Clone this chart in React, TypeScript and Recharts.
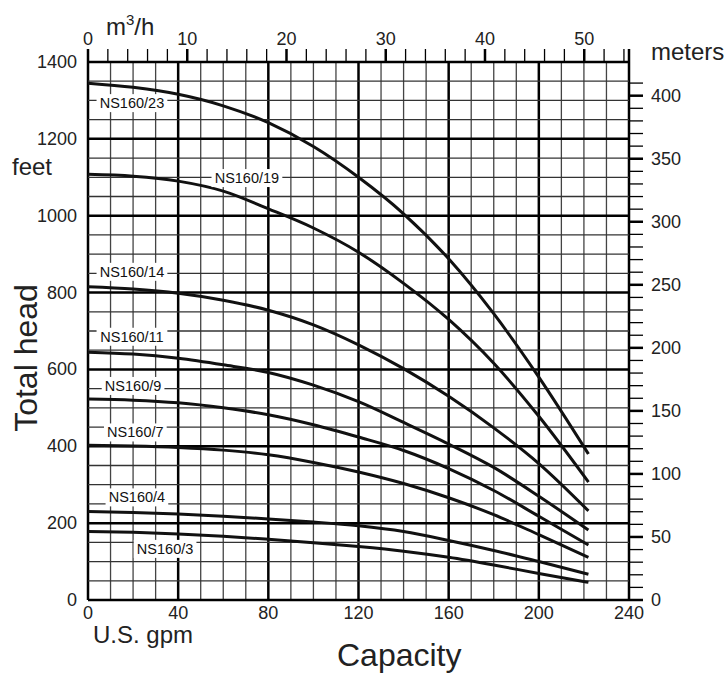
import React from 'react';
import { LineChart, Line, XAxis, YAxis, ReferenceLine, ReferenceDot } from 'recharts';

// capacity points (U.S. gpm)
const GPM = [0, 20, 40, 60, 80, 100, 120, 140, 160, 180, 200, 222];

// total head in feet for each pump model
const NS23 = [1345, 1334, 1316, 1286, 1242, 1180, 1100, 1005, 888, 745, 580, 380];
const NS19 = [1108, 1103, 1090, 1064, 1018, 968, 905, 824, 730, 616, 478, 307];
const NS14 = [815, 809, 798, 780, 754, 716, 664, 602, 530, 448, 355, 232];
const NS11 = [645, 640, 629, 612, 592, 559, 516, 462, 406, 345, 270, 182];
const NS9 = [523, 520, 513, 500, 482, 456, 424, 389, 342, 285, 218, 143];
const NS7 = [403, 401, 397, 390, 378, 358, 333, 303, 266, 222, 170, 111];
const NS4 = [230, 228, 224, 218, 211, 203, 193, 178, 155, 129, 100, 67];
const NS3 = [178, 176, 172, 166, 158, 149, 139, 127, 111, 91, 69, 46];

const MODELS = ['NS160/23', 'NS160/19', 'NS160/14', 'NS160/11', 'NS160/9', 'NS160/7', 'NS160/4', 'NS160/3'];
const SERIES = [NS23, NS19, NS14, NS11, NS9, NS7, NS4, NS3];

// where the model tags sit (data coords)
const TAGS = [
  { name: 'NS160/23', gpm: 19.5, ft: 1293 },
  { name: 'NS160/19', gpm: 70.5, ft: 1098 },
  { name: 'NS160/14', gpm: 19.5, ft: 854 },
  { name: 'NS160/11', gpm: 19.5, ft: 685 },
  { name: 'NS160/9', gpm: 20, ft: 557 },
  { name: 'NS160/7', gpm: 21, ft: 436 },
  { name: 'NS160/4', gpm: 21.7, ft: 267 },
  { name: 'NS160/3', gpm: 34.2, ft: 133 },
];

const GPM_TICKS = [0, 40, 80, 120, 160, 200, 240];
const FT_TICKS = [0, 200, 400, 600, 800, 1000, 1200, 1400];
const M3H_TICKS = Array.from({ length: 28 }, (_, i) => i * 2);
const M_TICKS = Array.from({ length: 42 }, (_, i) => i * 10);
const GRID_GPM = Array.from({ length: 25 }, (_, i) => i * 10);
const GRID_FT = Array.from({ length: 29 }, (_, i) => i * 50);

const GPM_PER_M3H = 4.40287;
const FT_PER_M = 3.28084;
const TOP_TICKS = [...M3H_TICKS.map((v) => v * GPM_PER_M3H), 240];

const FONT = '"Liberation Sans", Arial, sans-serif';

const data = GPM.map((g, i) => {
  const row: Record<string, number> = { gpm: g };
  MODELS.forEach((m, k) => { row[m] = SERIES[k][i]; });
  return row;
});

const LeftTick = ({ x, y, payload }: any) => (
  <text x={x} y={y + 6} textAnchor="end" fontSize={18} fontFamily={FONT} fill="#222">{payload.value}</text>
);

const BottomTick = ({ x, y, payload }: any) => (
  <text x={x} y={y + 14} textAnchor="middle" fontSize={18} fontFamily={FONT} fill="#222">{payload.value}</text>
);

const TopTick = ({ x, y, payload }: any) => {
  const g = payload.value;
  const isEnd = g >= 239.99;
  const m3 = Math.round(g / GPM_PER_M3H);
  const major = isEnd || m3 % 10 === 0;
  return (
    <g>
      <line x1={x} x2={x} y1={y + 4} y2={y + 17} stroke="#000" strokeWidth={major ? 2.5 : 1.3} />
      {!isEnd && m3 % 10 === 0 && (
        <text x={x} y={y} textAnchor="middle" fontSize={18} fontFamily={FONT} fill="#222">{m3}</text>
      )}
    </g>
  );
};

const RightTick = ({ x, y, payload }: any) => {
  const v = payload.value;
  const major = v % 50 === 0;
  return (
    <g>
      <line x1={x - 22} x2={x - 8} y1={y} y2={y} stroke="#000" strokeWidth={major ? 2.5 : 1.3} />
      {major && (
        <text x={x} y={y + 6} textAnchor="start" fontSize={18} fontFamily={FONT} fill="#222">{v}</text>
      )}
    </g>
  );
};

const Tag = ({ cx, cy, text }: any) => {
  const w = text.length * 8.1;
  return (
    <g>
      <rect x={cx - w / 2 - 3} y={cy - 9} width={w + 6} height={18} fill="#fff" />
      <text x={cx} y={cy + 5} textAnchor="middle" fontSize={14.5} fontFamily={FONT} fill="#111">{text}</text>
    </g>
  );
};

export default function App() {
  return (
    <div style={{ position: 'absolute', left: 0, top: 0, width: 728, height: 673, background: '#fff' }}>
      <LineChart width={728} height={673} data={data} margin={{ top: 32, right: 39, bottom: 43, left: 28 }}>
        <XAxis xAxisId="gpm" dataKey="gpm" type="number" domain={[0, 240]} ticks={GPM_TICKS} interval={0}
          tickLine={false} axisLine={false} tickSize={0} tickMargin={5} height={30}
          tick={(p: any) => <BottomTick {...p} />} allowDataOverflow />
        <XAxis xAxisId="top" dataKey="gpm" orientation="top" type="number" domain={[0, 240]} ticks={TOP_TICKS}
          interval={0} tickLine={false} axisLine={false} tickSize={13} tickMargin={4} height={30}
          tick={(p: any) => <TopTick {...p} />} allowDataOverflow />
        <YAxis yAxisId="ft" type="number" domain={[0, 1400]} ticks={FT_TICKS} interval={0} width={60}
          tickLine={false} axisLine={false} tickSize={0} tickMargin={11}
          tick={(p: any) => <LeftTick {...p} />} allowDataOverflow />
        <YAxis yAxisId="m" orientation="right" type="number" domain={[0, 1400 / FT_PER_M]} ticks={M_TICKS}
          interval={0} width={60} tickLine={false} axisLine={false} tickSize={14} tickMargin={8}
          tick={(p: any) => <RightTick {...p} />} allowDataOverflow />

        {GRID_GPM.map((v) => (
          <ReferenceLine key={'gx' + v} xAxisId="gpm" yAxisId="ft" x={v} stroke={v % 40 === 0 ? '#000' : '#444'}
            strokeWidth={v % 40 === 0 ? 2.5 : 1.3} />
        ))}
        {GRID_FT.map((v) => (
          <ReferenceLine key={'gy' + v} xAxisId="gpm" yAxisId="ft" y={v} stroke={v % 200 === 0 ? '#000' : '#333'}
            strokeWidth={v % 200 === 0 ? 2.5 : 1.3} />
        ))}

        {MODELS.map((m) => (
          <Line key={m} xAxisId="gpm" yAxisId="ft" dataKey={m} type="monotone" stroke="#111" strokeWidth={3}
            dot={false} isAnimationActive={false} />
        ))}

        {TAGS.map((t) => (
          <ReferenceDot key={t.name} xAxisId="gpm" yAxisId="ft" x={t.gpm} y={t.ft} r={0} ifOverflow="visible"
            shape={(p: any) => <Tag cx={p.cx} cy={p.cy} text={t.name} />} />
        ))}
      </LineChart>
      <svg width={728} height={673} style={{ position: 'absolute', left: 0, top: 0, pointerEvents: 'none' }}>
        <text x={106} y={35} fontSize={24} fontFamily={FONT} fill="#222">
          m<tspan fontSize={15} dy={-10}>3</tspan><tspan dy={10}>/h</tspan>
        </text>
        <text x={651} y={60} fontSize={24} fontFamily={FONT} fill="#222">meters</text>
        <text x={12} y={175} fontSize={24} fontFamily={FONT} fill="#222">feet</text>
        <text x={37} y={358} fontSize={32} fontFamily={FONT} fill="#222" textAnchor="middle"
          transform="rotate(-90 37 358)">Total head</text>
        <text x={93} y={643} fontSize={24} fontFamily={FONT} fill="#222">U.S. gpm</text>
        <text x={337} y={666} fontSize={32} fontFamily={FONT} fill="#222">Capacity</text>
      </svg>
    </div>
  );
}
